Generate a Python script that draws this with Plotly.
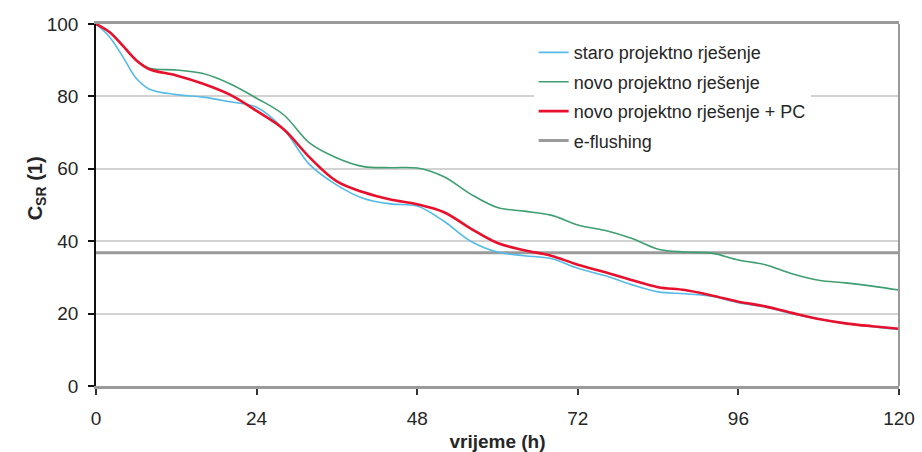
import plotly.graph_objects as go

# Time axis (hours)
hours = [0, 2, 4, 6, 8, 12, 16, 20, 24, 28, 32, 36, 40, 44, 48, 52, 56, 60,
         64, 68, 72, 76, 80, 84, 88, 92, 96, 100, 104, 108, 112, 116, 120]

# C_SR values per design variant
staro = [100, 96.5, 91, 85, 82, 80.5, 79.8, 78.5, 77, 71, 61, 55.5, 51.8, 50.3,
         49.7, 45.5, 40, 37, 36, 35.2, 32.5, 30.5, 28, 26, 25.5, 24.8, 23, 21.8,
         20, 18.5, 17.3, 16.4, 15.6]
novo = [100, 97.8, 94, 90, 87.8, 87.3, 86.3, 83.5, 79.5, 75, 67, 63, 60.6, 60.3,
        60.2, 57.8, 53, 49.3, 48.3, 47.2, 44.5, 43, 40.8, 37.8, 37, 36.7, 34.8,
        33.5, 31, 29.2, 28.5, 27.6, 26.5]
novo_pc = [100, 97.8, 94, 90, 87.5, 85.8, 83.5, 80.5, 76, 71, 63, 56.5, 53.5,
           51.5, 50.2, 48, 43.5, 39.5, 37.5, 36, 33.5, 31.5, 29.3, 27.3, 26.5,
           25, 23.3, 22, 20.2, 18.5, 17.3, 16.5, 15.8]

# e-flushing threshold (1/e)
e_flush_x = [0, 120]
e_flush_y = [36.8, 36.8]

names = ["staro projektno rješenje", "novo projektno rješenje",
         "novo projektno rješenje + PC", "e-flushing"]

FONT = "Liberation Sans, Arial, sans-serif"
TXT = "#262626"

fig = go.Figure()
fig.add_trace(go.Scatter(x=e_flush_x, y=e_flush_y, mode="lines", name=names[3],
                         legendgroup="d", legendrank=4,
                         line=dict(color="#9a9a9a", width=3)))
fig.add_trace(go.Scatter(x=hours, y=staro, mode="lines", name=names[0],
                         legendgroup="a", legendrank=1, line_shape="spline",
                         line=dict(color="#55bbe6", width=1.6)))
fig.add_trace(go.Scatter(x=hours, y=novo, mode="lines", name=names[1],
                         legendgroup="b", legendrank=2, line_shape="spline",
                         line=dict(color="#3e9e72", width=1.6)))
fig.add_trace(go.Scatter(x=hours, y=novo_pc, mode="lines", name=names[2],
                         legendgroup="c", legendrank=3, line_shape="spline",
                         line=dict(color="#e8112d", width=2.6)))

fig.update_layout(
    width=922, height=452,
    margin=dict(l=96, r=23, t=24, b=66),
    paper_bgcolor="white", plot_bgcolor="white",
    font=dict(family=FONT, size=19, color=TXT),
    legend=dict(x=0.545, y=0.972, xanchor="left", yanchor="top",
                bgcolor="white", borderwidth=0,
                traceorder="grouped", tracegroupgap=3,
                font=dict(size=18, color=TXT)),
    xaxis=dict(range=[0, 120], tickvals=[0, 24, 48, 72, 96, 120],
               ticks="outside", ticklen=6, tickwidth=1.5, tickcolor="#333",
               showgrid=False, zeroline=False, automargin=False,
               showline=True, linecolor="#9a9a9a", linewidth=3, mirror=True,
               ticklabelstandoff=7,
               title=dict(text="<b>vrijeme (h)</b>", standoff=9,
                          font=dict(size=19, color=TXT))),
    yaxis=dict(range=[0, 100], tickvals=[0, 20, 40, 60, 80, 100],
               ticks="outside", ticklen=6, tickwidth=1.5, tickcolor="#111",
               showgrid=True, gridcolor="#d2d2d2", gridwidth=1.5,
               zeroline=False, showline=True, linecolor="#111", linewidth=1.5,
               ticklabelstandoff=6, automargin=False),
    shapes=[dict(type="line", xref="paper", yref="paper", x0=1, x1=1, y0=0, y1=1,
                 line=dict(color="#9a9a9a", width=2))],
    annotations=[dict(text="<b>C<sub>SR</sub> (1)</b>", textangle=-90,
                      xref="paper", yref="paper", x=-0.092, y=0.545,
                      showarrow=False, font=dict(size=20, color=TXT))],
)

fig.write_html("out.html")
